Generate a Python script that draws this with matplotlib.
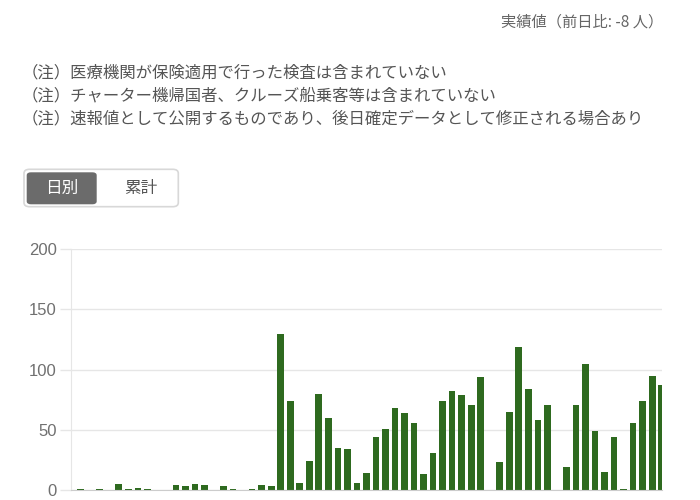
import matplotlib
matplotlib.use("Agg")
import matplotlib.pyplot as plt
from matplotlib.patches import FancyBboxPatch
import numpy as np

plt.rcParams['font.family'] = ['Noto Sans CJK JP', 'DejaVu Sans']

# daily values
daily = [1, 0, 1, 0, 5, 1, 2, 1, 0, 0, 4, 3, 5, 4, 0, 3, 1, 0, 1, 4, 3, 130,
         74, 6, 24, 80, 60, 35, 34, 6, 14, 44, 51, 68, 64, 56, 13, 31, 74, 82,
         79, 71, 94, 0, 23, 65, 119, 84, 58, 71, 0, 19, 71, 105, 49, 15, 44, 1,
         56, 74, 95, 87]
yticks = [0, 50, 100, 150, 200]
header = "実績値（前日比: -8 人）"
notes = ["（注）医療機関が保険適用で行った検査は含まれていない",
         "（注）チャーター機帰国者、クルーズ船乗客等は含まれていない",
         "（注）速報値として公開するものであり、後日確定データとして修正される場合あり"]
buttons = ["日別", "累計"]

W, H = 700, 500
fig = plt.figure(figsize=(7, 5), dpi=100)


def fx(px):
    return px / W


def fy(py):
    return 1 - py / H


fig.text(fx(663), fy(22), header, ha='right', va='center', fontsize=11, color='#666666')
for i, note in enumerate(notes):
    fig.text(fx(22), fy(73 + 23 * i), note, ha='left', va='center', fontsize=11.8, color='#555555')

# toggle buttons
outer = FancyBboxPatch((fx(24), fy(206.7)), fx(178.3) - fx(24), fy(169.3) - fy(206.7),
                       boxstyle="round,pad=0,rounding_size=0.008", transform=fig.transFigure,
                       facecolor='white', edgecolor='#d8d8d8', linewidth=1.2)
fig.patches.append(outer)
inner = FancyBboxPatch((fx(26.7), fy(204.3)), fx(96.7) - fx(26.7), fy(172.3) - fy(204.3),
                       boxstyle="round,pad=0,rounding_size=0.006", transform=fig.transFigure,
                       facecolor='#6b6b6b', edgecolor='none')
fig.patches.append(inner)
fig.text(fx(61.5), fy(188.5), buttons[0], ha='center', va='center', fontsize=12, color='white')
fig.text(fx(141), fy(188.5), buttons[1], ha='center', va='center', fontsize=12, color='#555555')

ax = fig.add_axes([fx(70.7), fy(490), fx(661.7) - fx(70.7), fy(249.3) - fy(490)])
x = np.arange(len(daily))
ax.bar(x, daily, width=0.7, color='#2e6a1f')
ax.set_xlim(-1.05, 61.0)
ax.set_ylim(0, 200)
ax.set_yticks(yticks)
ax.set_yticklabels([str(t) for t in yticks], fontsize=12, color='#707070', family='Liberation Sans')
ax.set_xticks([])
ax.yaxis.grid(True, color='#e6e6e6', linewidth=1)
ax.set_axisbelow(True)
ax.tick_params(axis='y', length=8, color='#e6e6e6', width=1, pad=2)
for s in ['top', 'right']:
    ax.spines[s].set_visible(False)
ax.spines['left'].set_color('#e6e6e6')
ax.spines['bottom'].set_color('#cccccc')

fig.savefig("out.png", dpi=100)
